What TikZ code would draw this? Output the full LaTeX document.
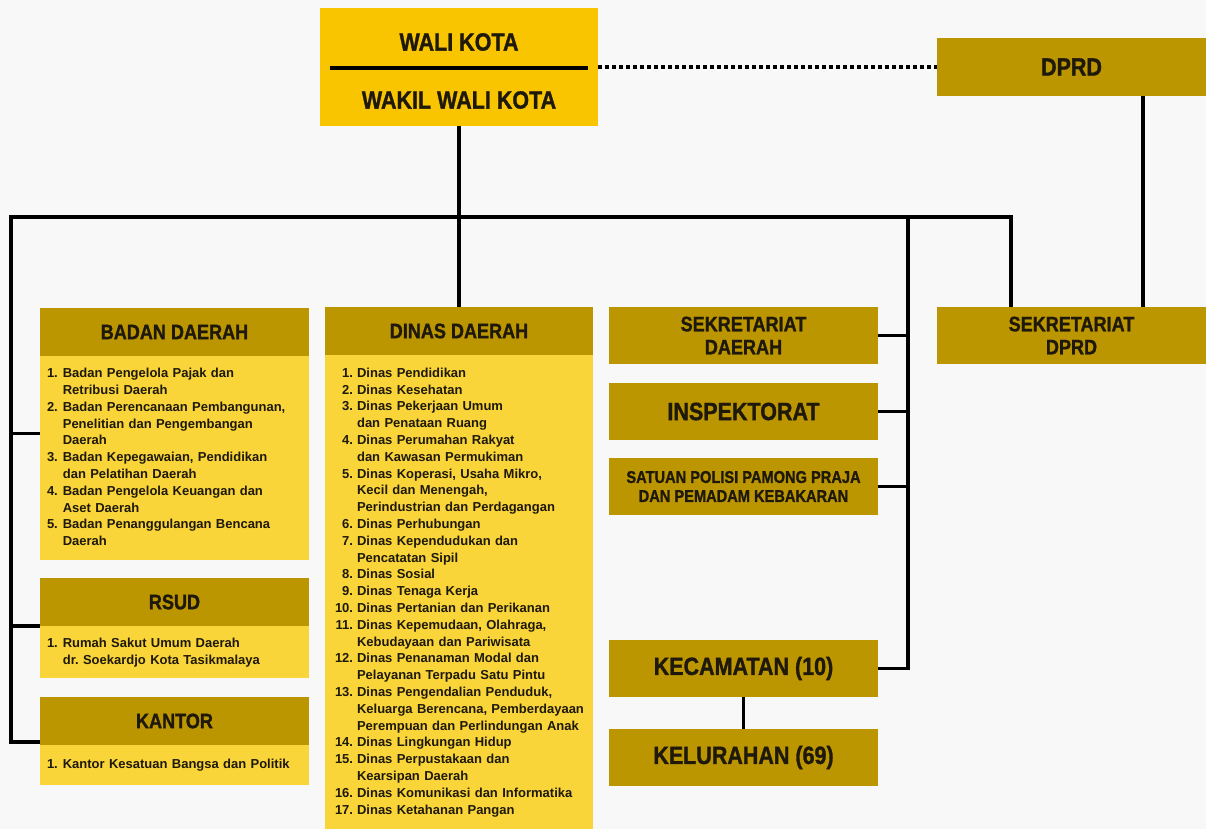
\documentclass[tikz,border=0pt]{standalone}
\usepackage{fontspec}
\setmainfont{Liberation Sans}
\newfontfamily\headfont[FakeStretch=0.86, BoldFeatures={FakeBold=1.2}]{Liberation Sans}
\usetikzlibrary{positioning}

\definecolor{gold}{RGB}{188,150,0}
\definecolor{pale}{RGB}{250,213,58}
\definecolor{bright}{RGB}{249,197,0}
\definecolor{paper}{RGB}{248,248,248}
\definecolor{ink}{RGB}{30,25,10}

\newcommand{\itemsfont}{\fontsize{13}{16.8}\selectfont\bfseries}

\begin{document}
\begin{tikzpicture}[
  x=1pt, y=-1pt,
  goldblock/.style={
    rectangle,
    fill=gold,
    text=ink,
    inner sep=0pt,
    minimum width=269pt,
    minimum height=57pt,
    align=center,
    font=\headfont\bfseries\fontsize{21}{23}\selectfont
  },
  headblock/.style={
    goldblock,
    minimum height=48pt
  },
  paleblock/.style={
    rectangle,
    fill=pale,
    text=ink,
    inner ysep=0pt,
    inner xsep=7pt,
    text width=255pt,
    align=left,
    font=\itemsfont
  },
  bigtext/.style={
    font=\headfont\bfseries\fontsize{25}{28}\selectfont
  },
  link/.style={
    draw=black,
    line width=3.5pt
  },
  dotlink/.style={
    draw=black,
    line width=4pt,
    dash pattern=on 4pt off 3pt
  }]
  \fill[paper] (0,0) rectangle (1206,829);
  \useasboundingbox (0,0) rectangle (1206,829);

  % top
  \node[fill=bright, minimum width=278pt, minimum height=118pt] (walikota) at (459,67) {};
  \node[bigtext, text=ink] (wali) at (459,42) {WALI KOTA};
  \node[bigtext, text=ink] (wakil) at (459,100) {WAKIL WALI KOTA};
  \draw[line width=4pt] ([xshift=10pt,yshift=-1pt]walikota.west) -- ([xshift=-10pt,yshift=-1pt]walikota.east);
  \node[goldblock, bigtext, minimum height=58pt] (dprd) at (1071.5,67) {DPRD};
  \draw[dotlink] (walikota.east) -- (dprd.west);

  % left column
  \node[headblock] (badanhead) at (174.5,332) {BADAN DAERAH};
  \node[paleblock, minimum height=204pt, below=0pt of badanhead] (badanbody) {%
    \begin{tabular}{@{}r@{\hspace{5pt}}l@{}}
    1. & Badan Pengelola Pajak dan\\
       & Retribusi Daerah\\
    2. & Badan Perencanaan Pembangunan,\\
       & Penelitian dan Pengembangan\\
       & Daerah\\
    3. & Badan Kepegawaian, Pendidikan\\
       & dan Pelatihan Daerah\\
    4. & Badan Pengelola Keuangan dan\\
       & Aset Daerah\\
    5. & Badan Penanggulangan Bencana\\
       & Daerah
    \end{tabular}};
  \node[headblock] (rsudhead) at (174.5,602) {RSUD};
  \node[paleblock, minimum height=52pt, below=0pt of rsudhead] (rsudbody) {%
    \begin{tabular}{@{}r@{\hspace{5pt}}l@{}}
    1. & Rumah Sakut Umum Daerah\\
       & dr.\ Soekardjo Kota Tasikmalaya
    \end{tabular}};
  \node[headblock] (kantorhead) at (174.5,721) {KANTOR};
  \node[paleblock, minimum height=40pt, below=0pt of kantorhead] (kantorbody) {%
    \begin{tabular}{@{}r@{\hspace{5pt}}l@{}}
    1. & Kantor Kesatuan Bangsa dan Politik
    \end{tabular}};

  % middle column
  \node[headblock, minimum width=268pt] (dinashead) at (459,331) {DINAS DAERAH};
  \node[paleblock, inner xsep=10pt, text width=248pt, minimum height=474pt, below=0pt of dinashead] (dinasbody) {%
    \begin{tabular}{@{}r@{\hspace{4pt}}l@{}}
    1. & Dinas Pendidikan\\
    2. & Dinas Kesehatan\\
    3. & Dinas Pekerjaan Umum\\
       & dan Penataan Ruang\\
    4. & Dinas Perumahan Rakyat\\
       & dan Kawasan Permukiman\\
    5. & Dinas Koperasi, Usaha Mikro,\\
       & Kecil dan Menengah,\\
       & Perindustrian dan Perdagangan\\
    6. & Dinas Perhubungan\\
    7. & Dinas Kependudukan dan\\
       & Pencatatan Sipil\\
    8. & Dinas Sosial\\
    9. & Dinas Tenaga Kerja\\
    10. & Dinas Pertanian dan Perikanan\\
    11. & Dinas Kepemudaan, Olahraga,\\
        & Kebudayaan dan Pariwisata\\
    12. & Dinas Penanaman Modal dan\\
        & Pelayanan Terpadu Satu Pintu\\
    13. & Dinas Pengendalian Penduduk,\\
        & Keluarga Berencana, Pemberdayaan\\
        & Perempuan dan Perlindungan Anak\\
    14. & Dinas Lingkungan Hidup\\
    15. & Dinas Perpustakaan dan\\
        & Kearsipan Daerah\\
    16. & Dinas Komunikasi dan Informatika\\
    17. & Dinas Ketahanan Pangan
    \end{tabular}};

  % right columns
  \node[goldblock] (sekda) at (743.5,335.5) {SEKRETARIAT\\DAERAH};
  \node[goldblock, bigtext] (inspektorat) at (743.5,411.5) {INSPEKTORAT};
  \node[goldblock, font=\headfont\bfseries\fontsize{17}{19}\selectfont] (satpol) at (743.5,486.5) {SATUAN POLISI PAMONG PRAJA\\DAN PEMADAM KEBAKARAN};
  \node[goldblock, bigtext] (kecamatan) at (743.5,668.5) {KECAMATAN (10)};
  \node[goldblock, bigtext] (kelurahan) at (743.5,757.5) {KELURAHAN (69)};
  \node[goldblock] (sekdprd) at (1071.5,335.5) {SEKRETARIAT\\DPRD};

  % connectors
  \coordinate (busleft) at (11,217);
  \coordinate (busright) at (1011,217);
  \coordinate (busmid) at (908,217);
  \coordinate (badantap) at ([yshift=25pt]badanbody.west);
  \coordinate (kantortap) at ([yshift=3pt]kantorhead.south west);
  \draw[link] (walikota.south) -- (dinashead.north);
  \draw[link] (kantortap) -| (busleft) -- (busright) -- (busright |- sekdprd.north);
  \draw[link] (badantap) -- (badantap -| busleft);
  \draw[link] (rsudbody.north west) -- (rsudbody.north west -| busleft);
  \draw[link] (busmid) |- (kecamatan.east);
  \foreach \unit in {sekda,inspektorat,satpol}
    \draw[link] (\unit.east) -- (\unit.east -| busmid);
  \draw[link] (kecamatan.south) -- (kelurahan.north);
  \draw[link] ([xshift=71.5pt]dprd.south) -- ([xshift=71.5pt]sekdprd.north);
\end{tikzpicture}
\end{document}
